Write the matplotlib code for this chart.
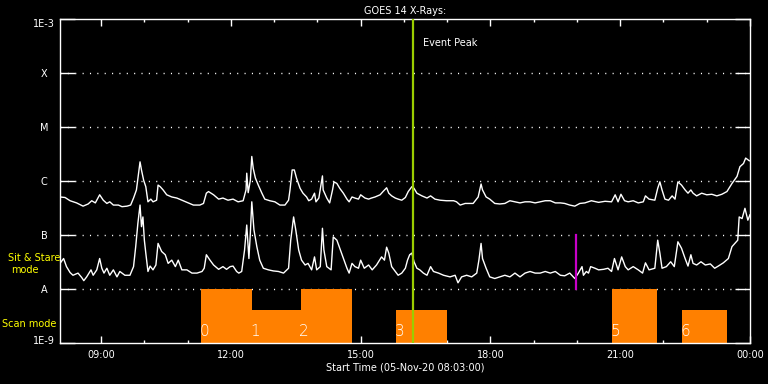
import matplotlib
matplotlib.use('Agg')
import matplotlib.pyplot as plt
from matplotlib.ticker import NullLocator, FixedLocator
from matplotlib.transforms import ScaledTranslation
import numpy as np

# ---- data ----
start_hour = 8.05  # 08:03
# GOES long channel (1-8 A): minutes since start, log10 flux (W/m^2)
long_t = [0, 7, 14, 23, 32, 39, 44, 49, 55, 60, 65, 69, 74, 81, 86, 93, 98, 102, 106, 109,
          111, 113, 116, 119, 122, 126, 129, 134, 136, 139, 143, 148, 155, 162, 171, 178, 185, 194, 199, 203,
          206, 213, 220, 226, 233, 240, 247, 254, 258, 259, 261, 264, 266, 268, 271, 275, 280, 284, 291, 298,
          305, 312, 317, 319, 322, 325, 328, 333, 337, 342, 345, 349, 353, 355, 359, 362, 364, 365, 370, 374,
          378, 380, 384, 388, 393, 398, 401, 405, 409, 414, 417, 423, 428, 432, 437, 444, 448, 453, 456, 460,
          465, 469, 474, 479, 483, 488, 491, 495, 502, 509, 514, 520, 527, 536, 546, 550, 555, 562, 566, 573,
          580, 584, 586, 591, 596, 603, 610, 617, 624, 631, 638, 645, 652, 659, 666, 673, 680, 687, 694, 700,
          707, 714, 721, 728, 737, 747, 756, 765, 770, 774, 778, 783, 788, 795, 802, 809, 812, 817, 825, 829,
          832, 835, 839, 844, 849, 853, 857, 862, 867, 871, 875, 878, 883, 890, 897, 904, 911, 918, 925, 932,
          939, 943, 948, 951, 956]
long_log = [-6.29, -6.30, -6.36, -6.40, -6.46, -6.42, -6.36, -6.40, -6.25, -6.35, -6.41, -6.38, -6.44, -6.44, -6.47, -6.46, -6.44, -6.31, -6.16, -5.85,
            -5.64, -5.79, -5.98, -6.10, -6.38, -6.33, -6.38, -6.35, -6.07, -6.10, -6.16, -6.25, -6.29, -6.31, -6.36, -6.40, -6.44, -6.44, -6.41, -6.22,
            -6.19, -6.25, -6.33, -6.31, -6.35, -6.33, -6.38, -6.36, -6.16, -5.85, -6.21, -5.98, -5.54, -5.76, -5.94, -6.07, -6.22, -6.33, -6.36, -6.38,
            -6.44, -6.44, -6.35, -6.16, -5.79, -5.79, -5.94, -6.13, -6.22, -6.29, -6.36, -6.33, -6.22, -6.38, -6.31, -6.07, -5.90, -6.16, -6.31, -6.40,
            -6.16, -6.01, -6.04, -6.13, -6.22, -6.33, -6.38, -6.29, -6.31, -6.33, -6.25, -6.31, -6.33, -6.31, -6.29, -6.25, -6.19, -6.12, -6.22, -6.27,
            -6.31, -6.33, -6.35, -6.30, -6.19, -6.10, -6.13, -6.22, -6.27, -6.31, -6.27, -6.33, -6.35, -6.36, -6.36, -6.38, -6.44, -6.41, -6.41, -6.41,
            -6.29, -6.05, -6.16, -6.29, -6.33, -6.41, -6.42, -6.41, -6.36, -6.38, -6.40, -6.38, -6.38, -6.40, -6.38, -6.36, -6.36, -6.40, -6.40, -6.41,
            -6.44, -6.46, -6.41, -6.40, -6.36, -6.39, -6.37, -6.38, -6.25, -6.38, -6.24, -6.36, -6.38, -6.36, -6.40, -6.38, -6.27, -6.33, -6.35, -6.13,
            -6.01, -6.16, -6.33, -6.35, -6.27, -6.33, -6.01, -6.07, -6.16, -6.22, -6.16, -6.22, -6.27, -6.22, -6.25, -6.24, -6.27, -6.24, -6.19, -6.04,
            -5.91, -5.73, -5.67, -5.57, -5.62]

# GOES short channel (0.5-4 A)
short_t = [0, 5, 9, 14, 18, 25, 30, 33, 37, 43, 46, 51, 55, 58, 61, 65, 69, 74, 79, 83,
           90, 97, 102, 105, 108, 111, 113, 115, 117, 119, 122, 125, 129, 133, 136, 141, 146, 150, 155, 160,
           164, 169, 176, 183, 190, 197, 200, 203, 208, 213, 220, 226, 231, 236, 240, 245, 248, 252, 256, 259,
           262, 264, 266, 269, 273, 277, 282, 289, 296, 303, 310, 317, 320, 324, 327, 331, 335, 340, 344, 349,
           353, 356, 361, 364, 366, 370, 376, 379, 384, 388, 393, 398, 401, 405, 409, 414, 417, 422, 428, 433,
           439, 446, 450, 453, 456, 460, 465, 469, 474, 479, 482, 485, 488, 491, 495, 499, 504, 509, 514, 518,
           525, 532, 541, 548, 552, 557, 564, 571, 578, 581, 584, 586, 591, 596, 603, 610, 617, 624, 631, 638,
           645, 652, 659, 666, 673, 680, 687, 694, 700, 707, 714, 719, 724, 726, 730, 733, 736, 742, 747, 754,
           760, 765, 769, 774, 779, 784, 788, 795, 802, 808, 812, 817, 825, 829, 832, 835, 841, 847, 852, 857,
           862, 867, 871, 875, 878, 883, 889, 895, 902, 908, 913, 920, 927, 932, 936, 940, 942, 946, 950, 954,
           957]
short_log = [-7.52, -7.43, -7.58, -7.69, -7.74, -7.70, -7.78, -7.84, -7.77, -7.64, -7.74, -7.64, -7.43, -7.61, -7.70, -7.61, -7.74, -7.64, -7.77, -7.67,
             -7.74, -7.74, -7.58, -7.21, -6.78, -6.44, -6.84, -6.66, -7.09, -7.33, -7.67, -7.57, -7.64, -7.55, -7.15, -7.30, -7.36, -7.52, -7.46, -7.58,
             -7.46, -7.64, -7.64, -7.70, -7.70, -7.67, -7.61, -7.36, -7.46, -7.55, -7.63, -7.58, -7.63, -7.58, -7.57, -7.67, -7.70, -7.67, -7.27, -6.81,
             -7.43, -6.96, -6.38, -6.90, -7.21, -7.46, -7.61, -7.64, -7.66, -7.67, -7.70, -7.61, -7.09, -6.66, -6.90, -7.27, -7.46, -7.55, -7.52, -7.64,
             -7.40, -7.64, -7.58, -6.87, -7.27, -7.58, -7.64, -7.03, -7.09, -7.24, -7.43, -7.61, -7.70, -7.52, -7.58, -7.61, -7.46, -7.61, -7.55, -7.64,
             -7.55, -7.40, -7.46, -7.22, -7.33, -7.58, -7.67, -7.74, -7.70, -7.61, -7.46, -7.36, -7.33, -7.49, -7.61, -7.64, -7.70, -7.74, -7.58, -7.67,
             -7.70, -7.74, -7.77, -7.74, -7.88, -7.77, -7.74, -7.77, -7.70, -7.46, -7.15, -7.43, -7.61, -7.77, -7.80, -7.77, -7.74, -7.77, -7.70, -7.77,
             -7.70, -7.67, -7.70, -7.70, -7.67, -7.70, -7.67, -7.74, -7.75, -7.70, -7.80, -7.70, -7.58, -7.74, -7.67, -7.70, -7.58, -7.61, -7.64, -7.63,
             -7.61, -7.67, -7.43, -7.64, -7.40, -7.58, -7.64, -7.58, -7.64, -7.70, -7.51, -7.64, -7.61, -7.09, -7.33, -7.61, -7.58, -7.49, -7.58, -7.12,
             -7.24, -7.43, -7.57, -7.36, -7.52, -7.55, -7.49, -7.55, -7.53, -7.61, -7.57, -7.51, -7.43, -7.21, -7.15, -7.09, -6.66, -6.69, -6.50, -6.72,
             -6.62]

# Scan mode intervals (hours of day), top level (log10 flux), labels
scan_start = [11.31, 12.49, 13.61, 15.82, 20.81, 22.43]
scan_end = [12.49, 13.61, 14.80, 16.99, 21.84, 23.46]
scan_top = [-8.0, -8.38, -8.0, -8.38, -8.0, -8.38]
scan_labels = ['0', '1', '2', '3', '5', '6']

event_peak_hour = 16.20
marker_hour = 19.98

ytick_vals = [1e-9, 1e-8, 1e-7, 1e-6, 1e-5, 1e-4, 1e-3]
ytick_labels = ['1E-9', 'A', 'B', 'C', 'M', 'X', '1E-3']
xtick_hours = [9, 12, 15, 18, 21, 24]
xtick_labels = ['09:00', '12:00', '15:00', '18:00', '21:00', '00:00']

# ---- plot ----
plt.rcParams['font.family'] = ['DejaVu Sans']
W, H = 768, 384
fig = plt.figure(figsize=(7.68, 3.84), dpi=100, facecolor='black')
ax = fig.add_axes([60 / W, 1 - 343.3 / H, 690 / W, 324 / H])
ax.set_facecolor('black')
ax.set_yscale('log')
ax.set_ylim(1e-9, 1e-3)
ax.set_xlim(start_hour, 24.0)

for s in ax.spines.values():
    s.set_color('white')
    s.set_linewidth(1.0)

# grid
for yv in ytick_vals[1:-1]:
    ax.axhline(yv, color='white', lw=1.0, ls=(0, (0.8, 4.5)), zorder=1)

# scan bars
for s0, s1, top in zip(scan_start, scan_end, scan_top):
    ax.bar(s0, 10 ** top - 1e-9, width=s1 - s0, bottom=1e-9, align='edge',
           color='#FF8000', linewidth=0, zorder=2)
off = ScaledTranslation(-1 / 72, 3 / 72, fig.dpi_scale_trans)
for s0, lab in zip(scan_start, scan_labels):
    ax.text(s0, 1e-9, lab, color='white', fontsize=11, fontweight=200, ha='left', va='bottom',
            transform=ax.transData + off, zorder=5)

# curves
lt = [start_hour + t / 60 for t in long_t]
st = [start_hour + t / 60 for t in short_t]
ax.plot(lt, [10 ** v for v in long_log], color='white', lw=1.0, zorder=3)
ax.plot(st, [10 ** v for v in short_log], color='white', lw=1.0, zorder=3)

# lines
ax.axvline(event_peak_hour, color='#9ACD00', lw=1.6, zorder=4)
ax.plot([marker_hour, marker_hour], [1e-8, 1e-7], color='#C800C8', lw=1.6, zorder=4)

# ticks
ax.yaxis.set_major_locator(FixedLocator(ytick_vals))
ax.yaxis.set_minor_locator(NullLocator())
ax.set_yticklabels(ytick_labels)
ax.tick_params(axis='y', which='major', direction='in', length=10.8, width=1.0,
               colors='white', left=True, right=True, labelsize=7, pad=11.5)
for lab in ax.get_yticklabels():
    lab.set_ha('center')
ylabs = ax.get_yticklabels()
ylabs[0].set_transform(ylabs[0].get_transform() + ScaledTranslation(0, 2.5 / 72, fig.dpi_scale_trans))
ylabs[-1].set_transform(ylabs[-1].get_transform() + ScaledTranslation(0, -3 / 72, fig.dpi_scale_trans))

ax.set_xticks(xtick_hours)
ax.set_xticklabels(xtick_labels)
ax.set_xticks(list(range(9, 25)), minor=True)
ax.tick_params(axis='x', which='major', direction='in', length=5, width=1.0,
               colors='white', top=True, bottom=True, labelsize=7, pad=4.5)
ax.tick_params(axis='x', which='minor', direction='in', length=2.5, width=1.0,
               colors='white', top=True, bottom=True)

# texts
fig.text(405 / W, 1 - 10.5 / H, 'GOES 14 X-Rays:', color='white', fontsize=7, ha='center', va='center')
fig.text(405 / W, 1 - 368 / H, 'Start Time (05-Nov-20 08:03:00)', color='white', fontsize=7, ha='center', va='center')
fig.text(423 / W, 1 - 43 / H, 'Event Peak', color='white', fontsize=7, ha='left', va='center', zorder=6)
fig.text(34.5 / W, 1 - 258 / H, 'Sit & Stare', color='#FFFF00', fontsize=7, ha='center', va='center', zorder=10)
fig.text(24.5 / W, 1 - 270 / H, 'mode', color='#FFFF00', fontsize=7, ha='center', va='center', zorder=10)
fig.text(2 / W, 1 - 324 / H, 'Scan mode', color='#FFFF00', fontsize=7, ha='left', va='center', zorder=10)

fig.savefig('out.png', dpi=100, facecolor='black')
